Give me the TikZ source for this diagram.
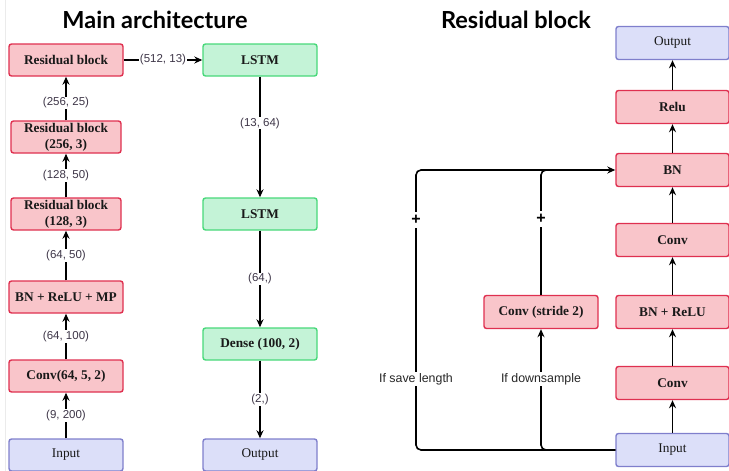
\documentclass[tikz,border=0pt]{standalone}
\usepackage{fontspec}
\setmainfont{Liberation Serif}
\setsansfont{Liberation Sans}
\newfontfamily\titlefont{Lato}
\usetikzlibrary{arrows.meta}
\definecolor{redfill}{HTML}{F9C5CA}
\definecolor{redline}{HTML}{DF3050}
\definecolor{greenfill}{HTML}{C4F3D7}
\definecolor{greenline}{HTML}{48D87A}
\definecolor{bluefill}{HTML}{DCDFF9}
\definecolor{blueline}{HTML}{7F7FCC}
\definecolor{lblgray}{HTML}{3E3648}
\tikzset{box/.style={rectangle,rounded corners=2.5pt,line width=1.4pt,minimum width=114pt,
           minimum height=32pt,inner sep=0pt,align=center,text=black!90},
         redbox/.style={box,draw=redline,fill=redfill,font=\fontsize{13.3}{16}\selectfont\bfseries},
         greenbox/.style={box,draw=greenline,fill=greenfill,font=\fontsize{13.3}{16}\selectfont\bfseries},
         bluebox/.style={box,draw=blueline,fill=bluefill,font=\fontsize{13.3}{16}\selectfont},
         arr/.style={line width=1.6pt,-{Stealth[length=8pt,width=7pt]}},
         lbl/.style={fill=white,inner sep=1pt,text=lblgray,font=\sffamily\fontsize{11.5}{13}\selectfont},
         rlbl/.style={lbl,font=\sffamily\fontsize{12.4}{14}\selectfont,text=black!85},
         plus/.style={lbl,inner sep=3pt,font=\sffamily\bfseries\fontsize{16}{16}\selectfont,text=black},
         ttl/.style={font=\titlefont\bfseries\fontsize{23.5}{28}\selectfont}
}
\begin{document}
\begin{tikzpicture}[x=1pt,y=-1pt]
  \useasboundingbox (0,0) rectangle (729,471);
  \draw[black!8,line width=1pt](5,0)--(5,471);
  \node[ttl] (mainttl) at (155,20) {Main architecture};
  \node[ttl] (resttl) at (516,20) {Residual block};
  % main architecture, left column
  \node[redbox] (res3) at (66,60) {Residual block};
  \node[redbox,minimum width=110pt] (res2) at (66,137) {Residual block\\(256, 3)};
  \node[redbox,minimum width=110pt] (res1) at (66,214) {Residual block\\(128, 3)};
  \node[redbox] (bnmp) at (66,297) {BN + ReLU + MP};
  \node[redbox] (conv) at (66,376) {Conv(64, 5, 2)};
  \node[bluebox] (in) at (66,455) {Input};
  \foreach\a/\b/\t/\p in {in/conv/{(9, 200)}/.5,conv/bnmp/{(64, 100)}/.5,bnmp/res1/{(64, 50)}/.5,
                          res1/res2/{(128, 50)}/.5,res2/res3/{(256, 25)}/.4} {
     \draw[arr](\a)--node[lbl,pos=\p]{\t}(\b);
  }
  % main architecture, right column
  \node[greenbox] (lstm1) at (260,60) {LSTM};
  \node[greenbox] (lstm2) at (260,214) {LSTM};
  \node[greenbox] (dense) at (260,344) {Dense (100, 2)};
  \node[bluebox] (out) at (260,455) {Output};
  \draw[arr](res3)--node[lbl]{(512, 13)}(lstm1);
  \foreach\a/\b/\t/\p in {lstm1/lstm2/{(13, 64)}/.385,lstm2/dense/{(64,)}/.5,dense/out/{(2,)}/.5} {
     \draw[arr](\a)--node[lbl,pos=\p]{\t}(\b);
  }
  % residual block
  \node[bluebox,minimum width=113pt,minimum height=33pt] (rout) at (672.5,43) {Output};
  \node[redbox,minimum width=113pt,minimum height=33pt] (relu) at (672.5,107) {Relu};
  \node[redbox,minimum width=113pt,minimum height=33pt] (bn) at (672.5,170) {BN};
  \node[redbox,minimum width=113pt,minimum height=33pt] (conv2) at (672.5,240) {Conv};
  \node[redbox,minimum width=113pt,minimum height=33pt] (bnrelu) at (672.5,312) {BN + ReLU};
  \node[redbox,minimum width=113pt,minimum height=33pt] (conv1) at (672.5,383) {Conv};
  \node[bluebox,minimum width=113pt,minimum height=33pt] (rin) at (672.5,450) {Input};
  \node[redbox,minimum height=33pt] (convs) at (541,312) {Conv (stride 2)};
  \foreach\a/\b in {rin/conv1,conv1/bnrelu,bnrelu/conv2,conv2/bn,bn/relu,relu/rout} {
     \draw[arr](\a)--(\b);
  }
  \coordinate (skiptop) at (416,170);
  \coordinate (skipjoin) at (585,170);
  \draw[arr,rounded corners=5pt](rin.west)-|(skiptop)--(bn.west);
  \draw[arr,rounded corners=5pt](rin.west)-|(convs.south);
  \draw[line width=1.6pt,rounded corners=5pt](convs.north)|-(skipjoin);
  \node[rlbl] (savelen) at (416,379) {If save length};
  \node[rlbl] (downs) at (541,379) {If downsample};
  \node[plus] (plusa) at (416,220) {+};
  \node[plus] (plusb) at (541,219) {+};
\end{tikzpicture}
\end{document}
